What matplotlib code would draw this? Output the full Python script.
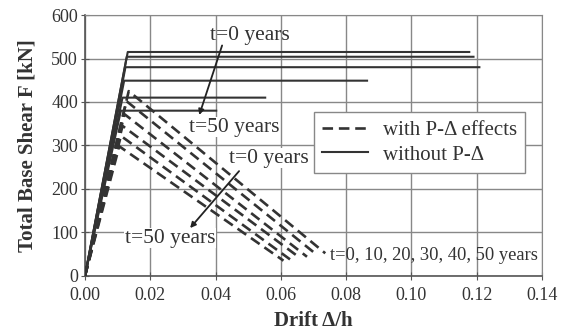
import numpy as np
import matplotlib.pyplot as plt
from matplotlib.lines import Line2D

plt.rcParams['font.family'] = ['Liberation Serif', 'DejaVu Serif']

# pushover curves without P-Delta (solid): yield point and end of plateau
years = [0, 10, 20, 30, 40, 50]
solid_yield_drift = [0.0131, 0.0128, 0.0124, 0.0120, 0.0115, 0.0110]
solid_force = [515, 504, 480, 449, 410, 380]
solid_end_drift = [0.1177, 0.119, 0.1208, 0.0864, 0.0552, 0.0402]

# pushover curves with P-Delta (dashed): peak and end point
dash_peak_drift = [0.0134, 0.0127, 0.0121, 0.0115, 0.0110, 0.0105]
dash_peak_force = [425, 402, 372, 345, 322, 298]
dash_end_drift = [0.0736, 0.0711, 0.068, 0.0659, 0.0628, 0.0608]
dash_end_force = [52, 48, 44, 41, 38, 35]

xticks = [0.00, 0.02, 0.04, 0.06, 0.08, 0.10, 0.12, 0.14]
yticks = [0, 100, 200, 300, 400, 500, 600]

col = '#333333'
txt = '#333333'
fig = plt.figure(figsize=(5.65, 3.34), dpi=100)
ax = fig.add_axes([0.1504, 0.174, 0.809, 0.781])

for i in range(len(years)):
    ax.plot([0, dash_peak_drift[i], dash_end_drift[i]],
            [0, dash_peak_force[i], dash_end_force[i]],
            color=col, lw=1.9, ls=(0, (4, 2.2)), zorder=3)
for i in range(len(years)):
    ax.plot([0, solid_yield_drift[i], solid_end_drift[i]],
            [0, solid_force[i], solid_force[i]],
            color=col, lw=1.5, zorder=4)

ax.set_xlim(0, 0.14)
ax.set_ylim(0, 600)
ax.set_xticks(xticks)
ax.set_yticks(yticks)
ax.set_xticklabels(['%.2f' % v for v in xticks])
ax.grid(True, color='#888888', lw=1.0)
ax.set_axisbelow(True)
for s in ['top', 'right']:
    ax.spines[s].set_color('#888888')
for s in ['left', 'bottom']:
    ax.spines[s].set_color('#555555')
    ax.spines[s].set_linewidth(1.2)
ax.tick_params(direction='inout', length=6, color='#555555', labelsize=13,
               labelcolor=txt)
ax.tick_params(axis='x', pad=5)
ax.tick_params(axis='y', pad=2)

ax.set_xlabel('Drift \u0394/h', fontsize=15, fontweight='bold', color=txt, labelpad=5)
ax.set_ylabel('Total Base Shear F [kN]', fontsize=15, fontweight='bold', color=txt, labelpad=10)

# annotations
arrow = dict(arrowstyle='-|>', color='#222222', lw=1.3, mutation_scale=8, shrinkA=0, shrinkB=0)
box = dict(facecolor='white', edgecolor='none', pad=0.3)
ax.text(0.0506, 554, 't=0 years', fontsize=15.5, ha='center', va='center', color=txt)
ax.annotate('', xy=(0.035, 370), xytext=(0.042, 530), arrowprops=arrow, zorder=6)
ax.text(0.0457, 342, 't=50 years', fontsize=15.5, ha='center', va='center', color=txt, bbox=box)

ax.text(0.0564, 271, 't=0 years', fontsize=15.5, ha='center', va='center', color=txt, bbox=box)
ax.annotate('', xy=(0.0322, 110), xytext=(0.0472, 241), arrowprops=arrow, zorder=6)
ax.text(0.026, 87, 't=50 years', fontsize=15.5, ha='center', va='center', color=txt, bbox=box)

ax.text(0.0751, 48, 't=0, 10, 20, 30, 40, 50 years', fontsize=13.3, ha='left', va='center',
        color=txt)

handles = [Line2D([], [], color=col, lw=1.9, ls=(0, (4, 2.2))),
           Line2D([], [], color=col, lw=1.5)]
leg = ax.legend(handles, ['with P-\u0394 effects', 'without P-\u0394'],
                loc='upper left', bbox_to_anchor=(0.501, 0.628), fontsize=15,
                fancybox=False, framealpha=1, edgecolor='#888888', borderaxespad=0,
                handlelength=2.2, handletextpad=0.7, borderpad=0.4, labelspacing=0.25)
leg.get_frame().set_linewidth(1.0)
leg.set_zorder(7)
for t in leg.get_texts():
    t.set_color(txt)

fig.savefig('out.png', dpi=100)
